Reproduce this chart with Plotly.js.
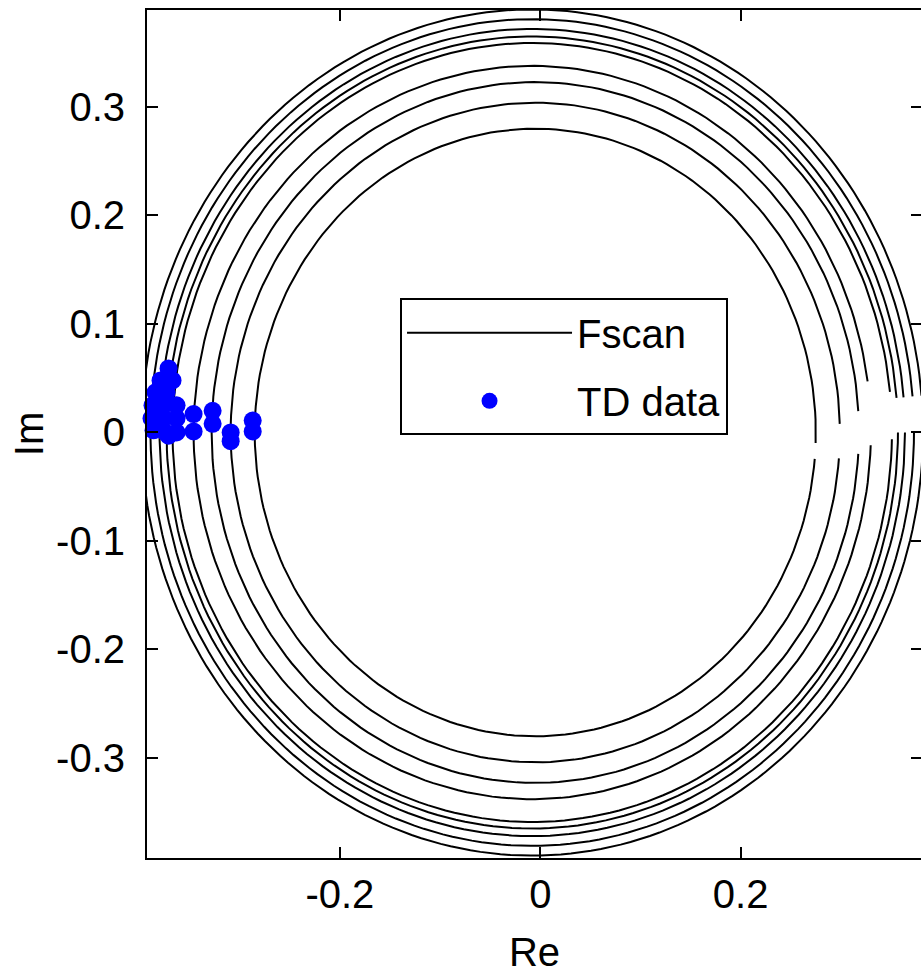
<!DOCTYPE html>
<html>
<head>
<meta charset="utf-8">
<script src="https://cdn.plot.ly/plotly-3.0.1.min.js"></script>
<style>
html, body { margin: 0; padding: 0; overflow: hidden; background: #fff; }
#chart { width: 923px; height: 974px; }
</style>
</head>
<body>
<div id="chart"></div>
<script>
// ---- Data ----
// Fscan curves: near-circles in the complex plane, each with a small gap on the right
const fscanRadius     = [0.280, 0.304, 0.323, 0.338, 0.359, 0.365, 0.372, 0.381, 0.390];
const fscanCenterRe   = [-0.005, -0.005, -0.005, -0.008, -0.008, -0.008, -0.008, -0.008, -0.008];
const fscanGapLowDeg  = [-5.0, -4.5, -3.5, -2.0, -1.0, 0.0, 0.0, 0.0, 0.0];
const fscanGapHighDeg = [-2.0, 1.5, 3.5, 8.0, 6.0, 5.0, 5.0, 5.0, 5.0];

// TD data points
const tdRe = [-0.287, -0.287, -0.309, -0.309, -0.327, -0.327, -0.346, -0.346,
              -0.371, -0.379, -0.367, -0.384, -0.373, -0.387, -0.376, -0.363,
              -0.388, -0.376, -0.363, -0.386, -0.374, -0.363, -0.371];
const tdIm = [0.011, 0.001, 0.000, -0.008, 0.020, 0.008, 0.017, 0.001,
              0.059, 0.048, 0.048, 0.037, 0.037, 0.025, 0.025, 0.025,
              0.013, 0.013, 0.013, 0.002, 0.000, 0.000, -0.003];

// Axis ticks
const xTickVals = [-0.2, 0, 0.2];
const xTickText = ['-0.2', '0', '0.2'];
const yTickVals = [-0.3, -0.2, -0.1, 0, 0.1, 0.2, 0.3];
const yTickText = ['-0.3', '-0.2', '-0.1', '0', '0.1', '0.2', '0.3'];

// ---- Build Fscan polylines (one trace, curves separated by null) ----
const fx = [], fy = [];
for (let k = 0; k < fscanRadius.length; k++) {
  const a0 = fscanGapHighDeg[k], a1 = 360 + fscanGapLowDeg[k];
  const n = 240;
  for (let i = 0; i <= n; i++) {
    const a = (a0 + (a1 - a0) * i / n) * Math.PI / 180;
    fx.push(fscanCenterRe[k] + fscanRadius[k] * Math.cos(a));
    fy.push(fscanRadius[k] * Math.sin(a));
  }
  fx.push(null); fy.push(null);
}

const FONT = 'Liberation Sans, Arial, Helvetica, sans-serif';

const traces = [
  {
    type: 'scatter', mode: 'lines', name: 'Fscan', legendgroup: 'g1',
    x: fx, y: fy, connectgaps: false,
    line: { color: '#000000', width: 2 },
    hoverinfo: 'skip'
  },
  {
    type: 'scatter', mode: 'markers', name: 'TD data', legendgroup: 'g2',
    x: tdRe, y: tdIm, cliponaxis: false,
    marker: { color: '#0000ff', size: 18, symbol: 'circle', line: { width: 0 } }
  }
];

const axisCommon = {
  showline: true, linecolor: '#000', linewidth: 2, mirror: 'ticks',
  ticks: 'inside', ticklen: 11, tickwidth: 2, tickcolor: '#000',
  showgrid: false, zeroline: false,
  tickfont: { family: FONT, size: 40, color: '#000' }
};

const layout = {
  width: 923, height: 974,
  margin: { l: 147, r: 1, t: 10, b: 116, pad: 0 },
  paper_bgcolor: '#fff', plot_bgcolor: '#fff',
  font: { family: FONT, size: 40, color: '#000' },
  showlegend: true,
  legend: {
    x: 0.3265, y: 0.660, xanchor: 'left', yanchor: 'top',
    bgcolor: '#fff', bordercolor: '#000', borderwidth: 2,
    font: { family: FONT, size: 40, color: '#000' },
    itemwidth: 165, traceorder: 'grouped', tracegroupgap: 13
  },
  xaxis: Object.assign({}, axisCommon, {
    range: [-0.3925, 0.381],
    tickmode: 'array', tickvals: xTickVals, ticktext: xTickText,
    ticklabelstandoff: 0,
    title: { text: 'Re', font: { family: FONT, size: 40, color: '#000' }, standoff: 28 }
  }),
  yaxis: Object.assign({}, axisCommon, {
    range: [-0.3922, 0.3894],
    tickmode: 'array', tickvals: yTickVals, ticktext: yTickText,
    ticklabelstandoff: 12,
    title: { text: 'Im', font: { family: FONT, size: 40, color: '#000' }, standoff: 0 }
  })
};

Plotly.newPlot('chart', traces, layout, { staticPlot: true, displayModeBar: false });
</script>
</body>
</html>
